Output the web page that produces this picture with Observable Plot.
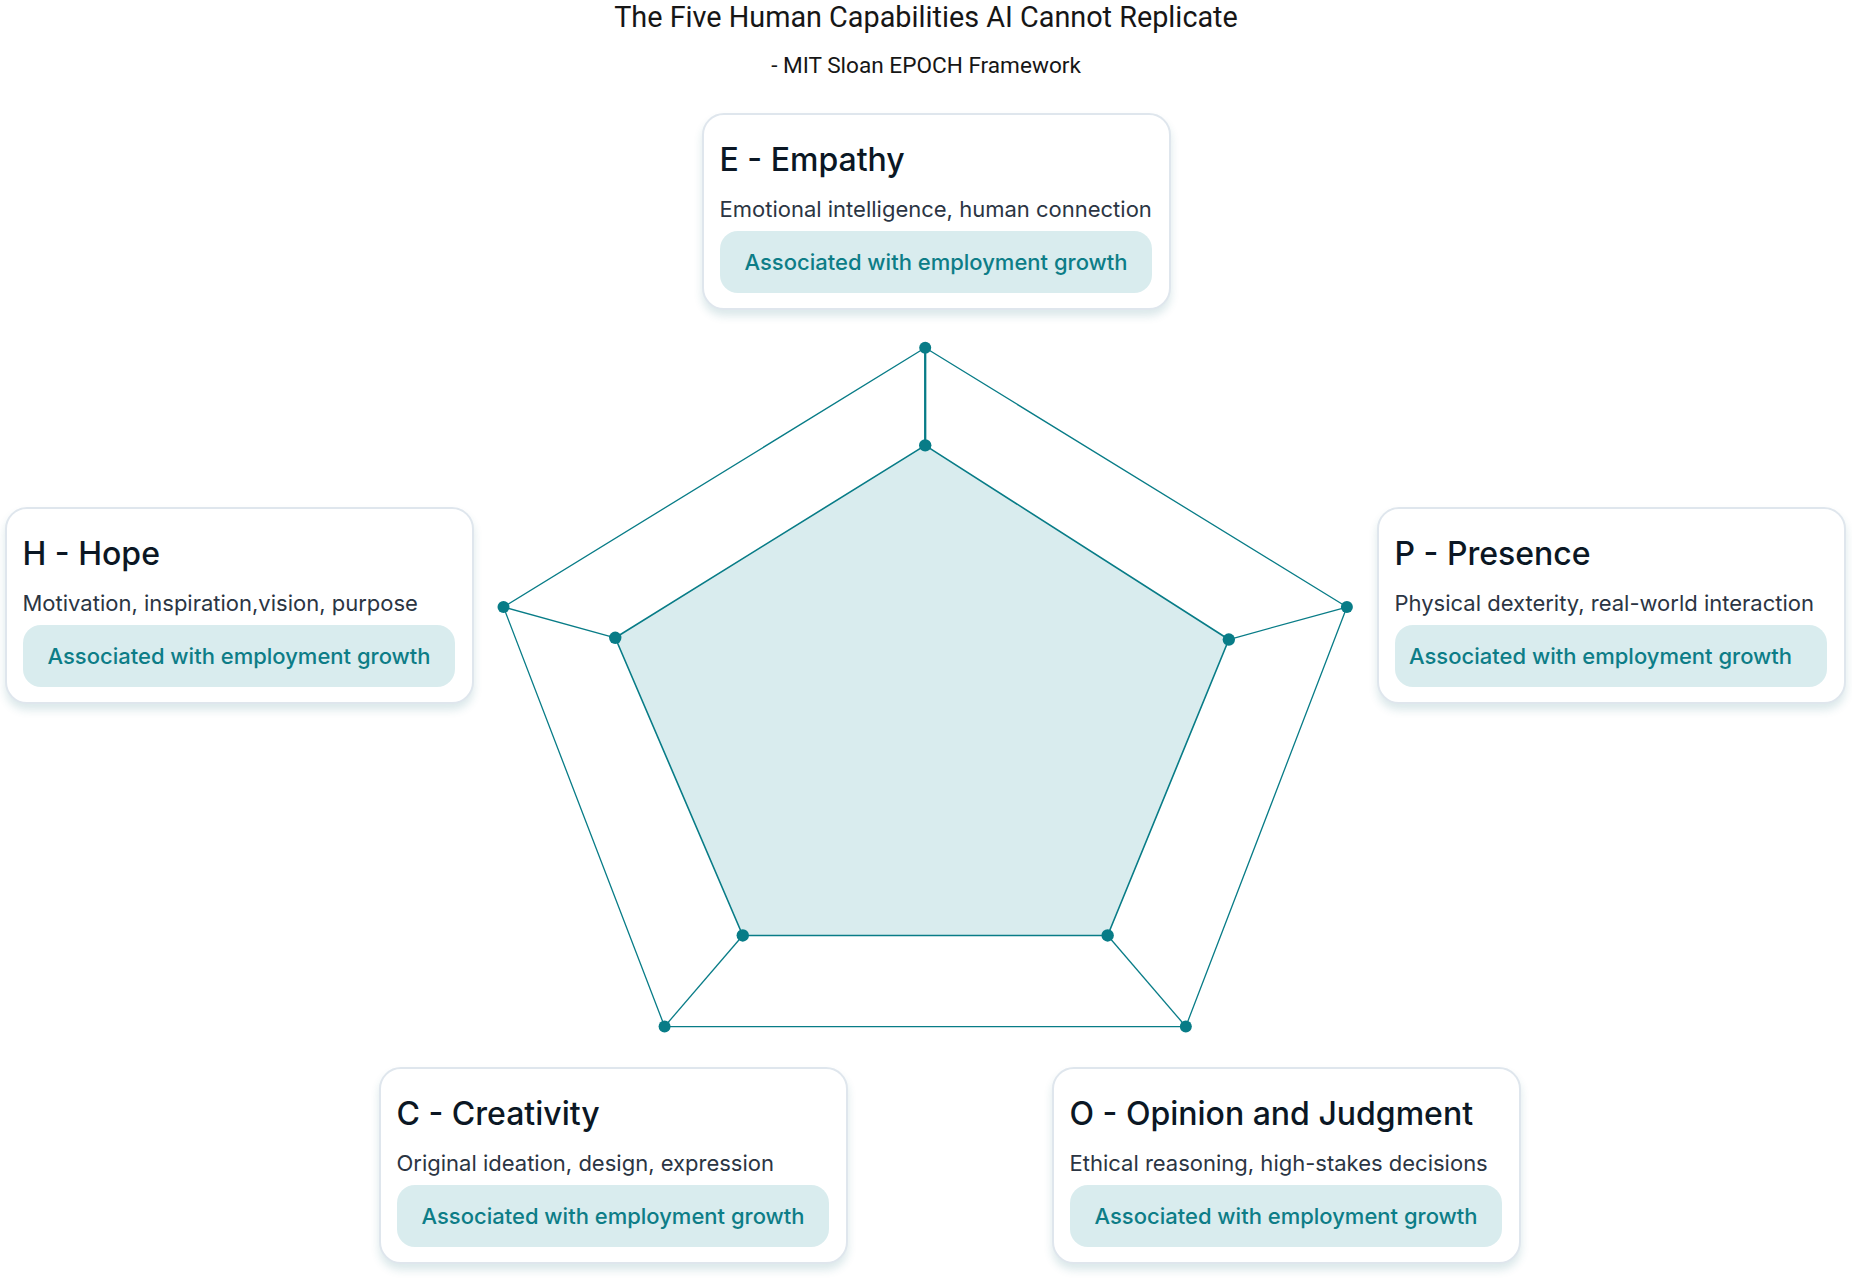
<!DOCTYPE html>
<html>
<head>
<meta charset="utf-8">
<script src="https://cdn.jsdelivr.net/npm/d3@7"></script>
<script src="https://cdn.jsdelivr.net/npm/@observablehq/plot@0.6"></script>
<style>
  html, body { margin: 0; padding: 0; background: #ffffff; }
  #root { position: relative; width: 1852px; height: 1282px; overflow: hidden; font-family: Inter, "Noto Sans", sans-serif; }
  #title { position: absolute; left: 0; top: 0; width: 1852px; text-align: center; font-family: Roboto, "Liberation Sans", sans-serif; font-size: 28.8px; line-height: 34px; color: #161616; }
  #subtitle { position: absolute; left: 0; top: 52px; width: 1852px; text-align: center; font-family: Roboto, "Liberation Sans", sans-serif; font-size: 22.6px; line-height: 28px; color: #161616; }
  #chart { position: absolute; left: 0; top: 0; }
  .card { position: absolute; box-sizing: border-box; width: 469px; height: 197px; border: 2px solid #dfe6ed; border-radius: 22px; background: #ffffff; box-shadow: 0 6px 9px rgba(30, 115, 125, 0.16); }
  .card .t { position: absolute; left: 15.5px; top: 25.5px; font-size: 32px; line-height: 38px; font-weight: 500; color: #0b1724; white-space: nowrap; }
  .card .d { position: absolute; left: 15.5px; top: 80px; font-size: 22px; line-height: 28px; font-weight: 400; color: #2b3543; white-space: nowrap; }
  .card .b { position: absolute; left: 16px; top: 115.5px; width: 432px; height: 62px; border-radius: 18px; background: #d9ecee; color: #0d7d87; font-size: 22px; font-weight: 500; display: flex; align-items: center; justify-content: center; white-space: nowrap; }
  .card .b.left { justify-content: flex-start; padding-left: 14px; box-sizing: border-box; }
</style>
</head>
<body>
<div id="root">
  <div id="title"></div>
  <div id="subtitle"></div>
  <div id="chart"></div>
</div>
<script>
// ---- data ----
const chartTitle = "The Five Human Capabilities AI Cannot Replicate";
const chartSubtitle = "- MIT Sloan EPOCH Framework";
const keys = ["E", "P", "O", "C", "H"];
const names = ["E - Empathy", "P - Presence", "O - Opinion and Judgment", "C - Creativity", "H - Hope"];
const descriptions = [
  "Emotional intelligence, human connection",
  "Physical dexterity, real-world interaction",
  "Ethical reasoning, high-stakes decisions",
  "Original ideation, design, expression",
  "Motivation, inspiration,vision, purpose"
];
const badges = [
  "Associated with employment growth",
  "Associated with employment growth",
  "Associated with employment growth",
  "Associated with employment growth",
  "Associated with employment growth"
];
const scores = [0.74, 0.72, 0.70, 0.70, 0.735];
const maxScores = [1, 1, 1, 1, 1];

// ---- layout (not data) ----
const cardLayout = {
  E: {left: 702, top: 113, align: "center"},
  P: {left: 1377, top: 507, align: "left"},
  O: {left: 1052, top: 1067, align: "center"},
  C: {left: 379, top: 1067, align: "center"},
  H: {left: 5, top: 507, align: "center"}
};
const teal = "#087c87";

// ---- build ----
document.getElementById("title").textContent = chartTitle;
document.getElementById("subtitle").textContent = chartSubtitle;

const pts = keys.map((k, i) => {
  const a = (90 - 72 * i) * Math.PI / 180;
  return {
    key: k,
    x: scores[i] * Math.cos(a), y: scores[i] * Math.sin(a),
    ox: maxScores[i] * Math.cos(a), oy: maxScores[i] * Math.sin(a)
  };
});

const plot = Plot.plot({
  width: 1852,
  height: 1282,
  margin: 0,
  style: {background: "transparent", overflow: "visible"},
  x: {domain: [-1, 1], range: [481.3, 1368.1], axis: null},
  y: {domain: [-1, 1], range: [1097.7, 347.3], axis: null},
  marks: [
    Plot.line(pts, {x: "x", y: "y", curve: "linear-closed", fill: "#d9ecee", stroke: teal, strokeWidth: 1.6}),
    Plot.line(pts, {x: "ox", y: "oy", curve: "linear-closed", stroke: teal, strokeWidth: 1.3}),
    Plot.link(pts, {x1: "x", y1: "y", x2: "ox", y2: "oy", stroke: teal, strokeWidth: d => d.key === "E" ? 2.3 : 1.3}),
    Plot.dot(pts, {x: "ox", y: "oy", r: 6, fill: teal, stroke: "none"}),
    Plot.dot(pts, {x: "x", y: "y", r: 6.2, fill: teal, stroke: "none"})
  ]
});
document.getElementById("chart").appendChild(plot);

const root = document.getElementById("root");
keys.forEach((k, i) => {
  const L = cardLayout[k];
  const card = document.createElement("div");
  card.className = "card";
  card.style.left = L.left + "px";
  card.style.top = L.top + "px";
  const t = document.createElement("div"); t.className = "t"; t.textContent = names[i];
  const d = document.createElement("div"); d.className = "d"; d.textContent = descriptions[i];
  const b = document.createElement("div"); b.className = "b" + (L.align === "left" ? " left" : ""); b.textContent = badges[i];
  card.appendChild(t); card.appendChild(d); card.appendChild(b);
  root.appendChild(card);
});
</script>
</body>
</html>
